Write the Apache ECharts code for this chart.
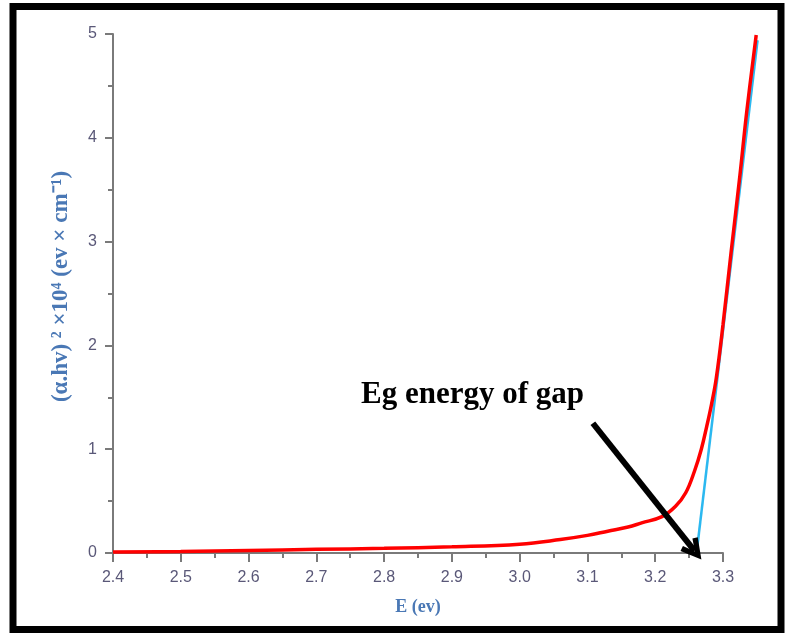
<!DOCTYPE html>
<html>
<head>
<meta charset="utf-8">
<script src="https://cdn.jsdelivr.net/npm/echarts@6/dist/echarts.min.js"></script>
<style>
  html, body { margin: 0; padding: 0; background: #fff; }
  #chart { width: 788px; height: 633px; }
</style>
</head>
<body>
<div id="chart"></div>
<script>
// measured curve (α.hν)² vs photon energy
var energy = [2.40, 2.50, 2.60, 2.70, 2.80, 2.90, 3.00, 3.06, 3.10, 3.13, 3.16, 3.18, 3.21, 3.23, 3.245, 3.258, 3.268, 3.276, 3.283, 3.29, 3.30, 3.312, 3.325, 3.335, 3.349];
var absorb = [0.01, 0.015, 0.025, 0.035, 0.045, 0.06, 0.085, 0.13, 0.17, 0.21, 0.25, 0.29, 0.35, 0.45, 0.58, 0.79, 1.0, 1.22, 1.43, 1.68, 2.2, 2.9, 3.64, 4.25, 4.99];
// linear fit (Tauc extrapolation)
var fitE = [3.261, 3.351];
var fitY = [0, 4.94];
// arrow pointing at Eg
var arrowFrom = [3.108, 1.25];
var arrowTo = [3.258, 0.02];
var xTicks = { min: 2.4, max: 3.3, step: 0.1 };
var yTicks = { min: 0, max: 5, step: 1 };
// data runs a little past the last tick
var dataMaxE = 3.35;

var myChart = echarts.init(document.getElementById('chart'));

function pairs(xs, ys) {
    return xs.map(function (x, i) { return [x, ys[i]]; });
}

var labelColor = '#5a5878';
var axisColor = '#7a7a7a';
var gridLeft = 113, gridRight = 65, gridTop = 34, gridBottom = 80;
// second (hidden) grid, same scale, stretched to dataMaxE
var plotW = 788 - gridLeft - gridRight;
var pxPerE = plotW / (xTicks.max - xTicks.min);
var dataRight = 788 - gridLeft - pxPerE * (dataMaxE - xTicks.min);

var option = {
    animation: false,
    grid: [
        { left: gridLeft, right: gridRight, top: gridTop, bottom: gridBottom },
        { left: gridLeft, right: dataRight, top: gridTop, bottom: gridBottom }
    ],
    xAxis: [{
        type: 'value',
        gridIndex: 0,
        min: xTicks.min,
        max: xTicks.max,
        interval: xTicks.step,
        name: 'E (ev)',
        nameLocation: 'middle',
        nameGap: 45,
        nameTextStyle: { color: '#4a78b5', fontFamily: 'Liberation Serif', fontWeight: 'bold', fontSize: 18 },
        axisLine: { lineStyle: { color: axisColor, width: 2 } },
        axisTick: { length: 9, lineStyle: { color: axisColor, width: 2 } },
        minorTick: { show: true, splitNumber: 2, length: 5, lineStyle: { color: axisColor, width: 2 } },
        splitLine: { show: false },
        axisLabel: {
            color: labelColor, fontSize: 16, fontFamily: 'Liberation Sans', margin: 17,
            formatter: function (v) { return v.toFixed(1); }
        }
    }, {
        type: 'value',
        gridIndex: 1,
        min: xTicks.min,
        max: dataMaxE,
        show: false
    }],
    yAxis: [{
        type: 'value',
        gridIndex: 0,
        min: yTicks.min,
        max: yTicks.max,
        interval: yTicks.step,
        name: '(α.hv) ² ×10⁴ (ev × cm⁻¹)',
        nameLocation: 'middle',
        nameGap: 40,
        nameTextStyle: { color: '#4a78b5', fontFamily: 'Liberation Serif', fontWeight: 'bold', fontSize: 23, padding: [0, 0, 0, 14] },
        axisLine: { show: true, lineStyle: { color: axisColor, width: 2 } },
        axisTick: { show: true, length: 8, lineStyle: { color: axisColor, width: 2 } },
        minorTick: { show: true, splitNumber: 2, length: 5, lineStyle: { color: axisColor, width: 2 } },
        splitLine: { show: false },
        axisLabel: { color: labelColor, fontSize: 16, fontFamily: 'Liberation Sans', margin: 16 }
    }, {
        type: 'value',
        gridIndex: 1,
        min: yTicks.min,
        max: yTicks.max,
        show: false
    }],
    series: [
        {
            type: 'line',
            xAxisIndex: 1,
            yAxisIndex: 1,
            data: pairs(energy, absorb),
            smooth: 0.4,
            showSymbol: false,
            lineStyle: { color: '#ff0000', width: 3.5 },
            z: 3
        },
        {
            type: 'line',
            xAxisIndex: 1,
            yAxisIndex: 1,
            data: pairs(fitE, fitY),
            showSymbol: false,
            lineStyle: { color: '#2bb8f0', width: 2.5 },
            z: 2,
            markLine: {
                silent: true,
                symbol: ['none', 'path://M10,0 L20,17 L15.5,19 L10,9 L4.5,19 L0,17 Z'],
                symbolSize: [22, 22],
                label: { show: false },
                lineStyle: { color: '#000', width: 6, type: 'solid' },
                data: [[{ coord: arrowFrom }, { coord: arrowTo }]]
            }
        }
    ],
    graphic: [
        {
            type: 'text',
            left: 361,
            top: 379,
            style: {
                text: 'Eg energy of gap',
                fill: '#000',
                font: 'bold 31px "Liberation Serif"'
            }
        },
        {
            type: 'rect',
            shape: { x: 13, y: 6.5, width: 768, height: 623 },
            style: { fill: 'none', stroke: '#000', lineWidth: 7 },
            silent: true
        }
    ]
};
myChart.setOption(option);
</script>
</body>
</html>
